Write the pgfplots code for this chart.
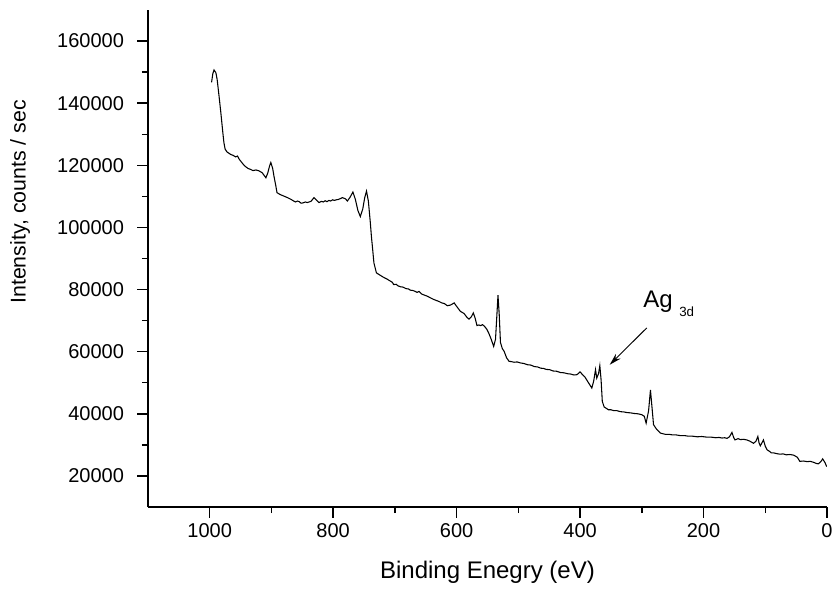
\documentclass[border=0pt]{standalone}
\usepackage{fontspec}
\setmainfont{Liberation Sans}
\usepackage{pgfplots}
\pgfplotsset{compat=1.18}
\usetikzlibrary{arrows.meta}

% survey spectrum
\pgfplotstableread{
x y
997 146700
995 149500
993 150700
990 149800
988 147700
985 142500
982 137000
979 131000
977 127300
975 125200
972 124300
969 123900
966 123500
962 123200
958 122700
955 123000
952 121900
950 121400
946 120400
942 119600
938 119000
934 118700
930 118300
925 118500
920 118200
915 117600
909 116000
906 117500
903 119800
901 120900
898 119000
896 116600
893 113500
891 111200
886 110600
880 110100
874 109600
868 109000
864 108500
861 108200
858 108500
855 108300
852 107800
849 107900
845 108200
842 108000
836 108400
831 109600
827 108800
823 108000
819 108400
816 108200
813 108600
810 108300
807 108700
804 108500
801 108900
798 108700
795 108900
792 109000
788 109300
785 109600
780 109200
777 108500
773 109600
768 111400
764 109000
760 105500
756 103500
752 106000
749 109500
746 111700
743 108500
740 102000
738 97000
736 92900
734 88600
730 85400
727 85000
723 84500
718 83900
715 83600
712 83300
709 82900
707 82700
704 82300
702 81600
698 81700
695 81200
691 80900
687 80800
682 80300
678 80200
675 79800
671 79700
668 79500
664 79100
661 79400
657 78600
652 78200
648 77900
642 77300
638 76900
633 76500
629 76200
624 75700
620 75500
615 74800
610 75000
604 75700
600 74600
597 73800
594 73000
588 72300
583 71000
580 70500
576 71300
573 72500
570 70800
567 68400
564 68600
561 68400
558 68700
555 68200
551 67200
548 66000
544 64000
540 61700
537 64000
535 71000
533 78200
531 72000
529 63000
526 61000
523 60100
519 58000
515 56900
511 56800
507 56600
502 56700
497 56400
491 56200
485 55800
480 55700
474 55200
469 55100
464 54700
459 54600
455 54300
449 54200
444 53800
438 53700
432 53300
426 53200
420 52900
415 52800
410 52500
405 52600
400 53500
396 52600
392 51800
387 50200
381 48300
378 50500
375 54200
373 51500
370 53000
368 55500
366 51000
364 44000
361 42200
357 41700
354 41300
350 41300
345 41000
340 41000
335 40700
329 40600
324 40400
318 40300
312 40100
306 40000
300 39700
296 39200
293 37000
289 41000
286 47700
283 41000
281 36500
276 35000
270 33800
266 33600
262 33400
256 33400
250 33200
244 33200
238 33000
231 33000
225 32800
218 32800
210 32600
203 32700
195 32500
188 32500
180 32300
175 32400
170 32200
166 32300
162 32100
158 32600
154 34000
151 32300
149 31600
144 32000
140 31700
135 31800
130 31600
125 31200
119 30500
115 31200
112 32700
110 30600
108 29700
105 30800
103 31600
100 29600
97 28400
93 27900
90 27400
86 27400
82 27200
76 27000
71 27100
66 26800
60 26900
54 26700
48 26000
44 24700
38 24800
32 24600
27 24700
22 24400
17 24000
14 23900
10 24600
7 25500
3 24200
0.5 23000
}\survey

\begin{document}
\begin{tikzpicture}
\path[use as bounding box] (-111pt,-62.25pt) rectangle (516pt,380.25pt);
\begin{axis}[
    at={(0,0)}, anchor=south west,
    scale only axis,
    width=509.25pt, height=372.75pt,
    xmin=0, xmax=1100,
    ymin=10000, ymax=170000,
    x dir=reverse,
    axis x line*=bottom,
    axis y line*=left,
    axis line style={line width=1.1pt},
    xtick={0,200,...,1000},
    ytick={20000,40000,...,160000},
    minor x tick num=1,
    minor y tick num=1,
    tick align=outside,
    major tick length=8pt,
    minor tick length=4.5pt,
    every tick/.style={black, line width=1.1pt},
    scaled y ticks=false,
    /pgf/number format/fixed,
    /pgf/number format/precision=0,
    /pgf/number format/1000 sep={},
    /pgf/number format/assume math mode=true,
    tick label style={font=\fontsize{15}{15}\selectfont},
    yticklabel style={xshift=-6.5pt},
    xticklabel style={yshift=-1pt},
    xlabel={Binding Enegry (eV)},
    ylabel={Intensity, counts / sec},
    xlabel style={at={(axis description cs:0.5,-0.131)}, anchor=center,
        font=\fontsize{18}{18}\selectfont},
    ylabel style={at={(axis description cs:-0.1885,0.614)}, anchor=center,
        font=\fontsize{16}{16}\selectfont},
]
\addplot[black, line width=0.8pt] table[x=x, y=y] {\survey};
\node[anchor=base west, font=\fontsize{18}{18}\selectfont, inner sep=0pt]
    at (axis cs:298,74200) {Ag\hspace{5pt}\raisebox{-6.5pt}{\fontsize{10}{10}\selectfont 3d}};
\draw[-{Stealth[length=9pt,width=5pt]}, line width=0.7pt]
    (axis cs:292,67650) -- (axis cs:352,55800);
\end{axis}
\end{tikzpicture}
\end{document}
